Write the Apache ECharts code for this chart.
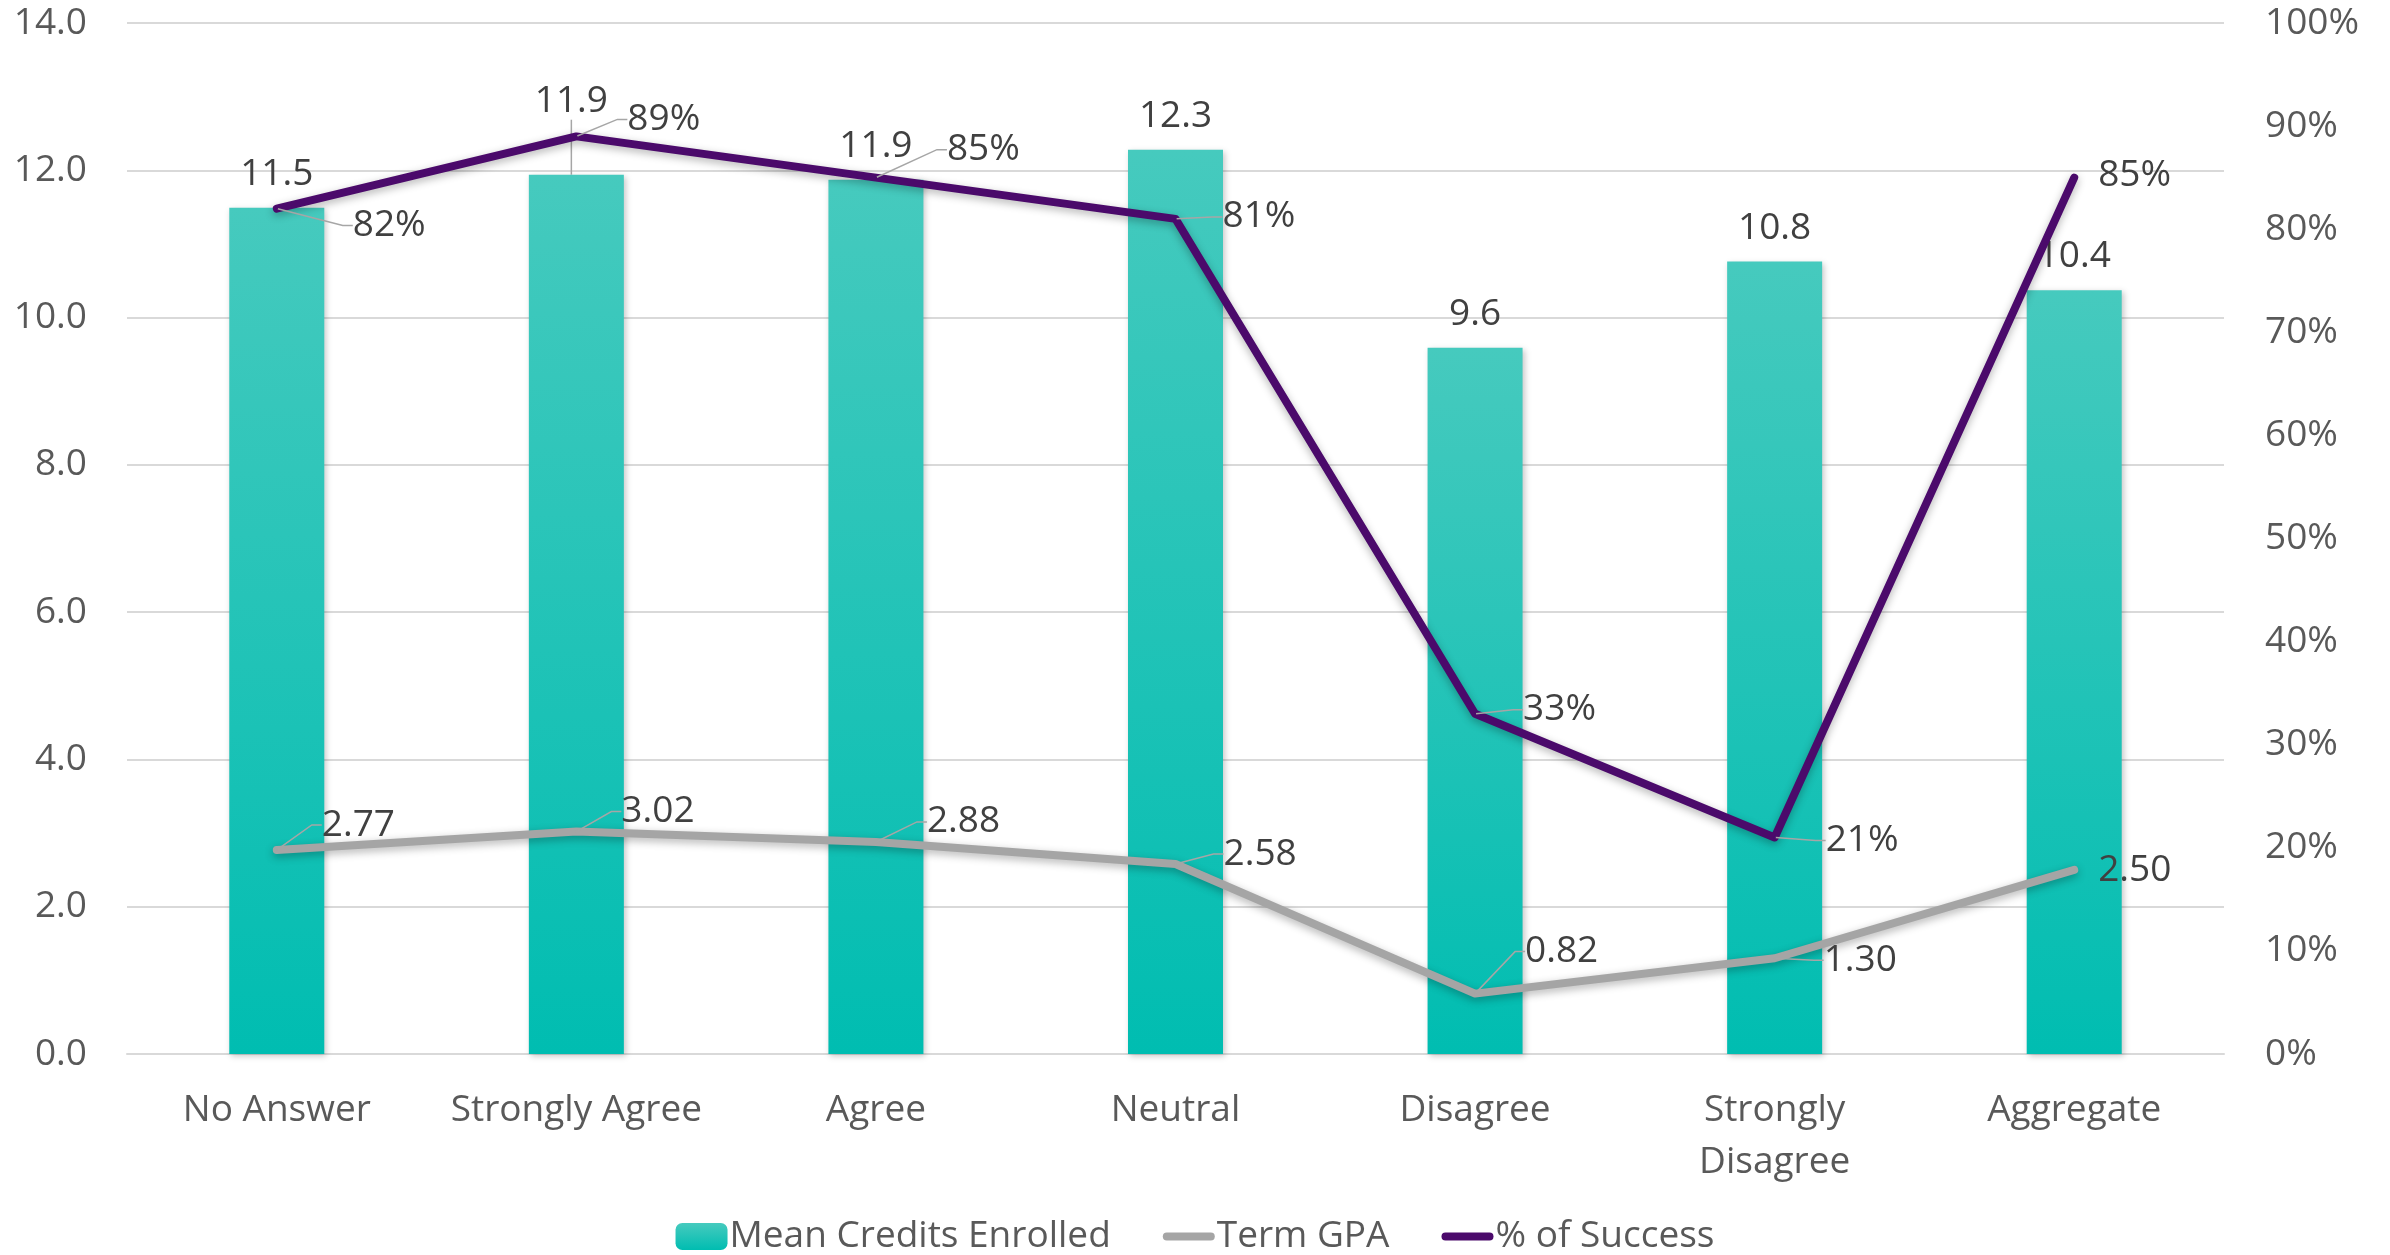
<!DOCTYPE html>
<html><head><meta charset="utf-8">
<script src="https://cdn.jsdelivr.net/npm/echarts@6/dist/echarts.min.js"></script>
<style>html,body{margin:0;padding:0;background:#fff}#c{width:2390px;height:1255px}</style>
</head><body><div id="c"></div>
<script>
const categories = ['No Answer', 'Strongly Agree', 'Agree', 'Neutral', 'Disagree', 'Strongly\nDisagree', 'Aggregate'];
const meanCredits = [11.49, 11.94, 11.87, 12.28, 9.59, 10.76, 10.37];
const termGPA = [2.77, 3.02, 2.88, 2.58, 0.82, 1.30, 2.50];
const successRate = [0.82, 0.89, 0.85, 0.81, 0.33, 0.21, 0.85];
const seriesNames = ['Mean Credits Enrolled', 'Term GPA', '% of Success'];

// label nudges (px) relative to default label position, and which labels get leader lines
const creditShift = [[0, 0], [-5, -40], [0, 0], [0, 0], [0, 0], [0, 0], [0, 0]];
const creditLeader = [false, true, false, false, false, false, false];
const gpaShift = [[44, -25], [44, -20], [50, -20], [47, -10], [49, -42], [48, 2], [23, 1]];
const gpaLeader = [true, true, true, true, true, true, false];
const successShift = [[75, 17], [50, -17], [70, -28], [46, -2], [47, -4], [50, 3], [23, -2]];
const successLeader = [true, true, true, true, true, true, false];

const FONT = '"Open Sans", "Noto Sans", sans-serif';
const leaderStyle = {color: '#a6a6a6', width: 1.5};
const lineIcon = 'path://M4,0 H48 A4,4 0 0 1 48,8 H4 A4,4 0 0 1 4,0 Z';

function items(values, leaders) {
  return values.map((v, i) => ({value: v, labelLine: {show: leaders[i], length2: 10, lineStyle: leaderStyle}}));
}
function shiftLayout(shift) {
  return function (p) { const s = shift[p.dataIndex]; return {dx: s[0], dy: s[1]}; };
}

const chart = echarts.init(document.getElementById('c'));
chart.setOption({
  backgroundColor: '#ffffff',
  animation: false,
  textStyle: {fontFamily: FONT},
  grid: {left: 127, right: 166, top: 23, bottom: 201},
  legend: {
    data: [
      {name: seriesNames[0]},
      {name: seriesNames[1], icon: lineIcon},
      {name: seriesNames[2], icon: lineIcon}
    ],
    left: 'center',
    top: 1213,
    itemGap: 52,
    itemWidth: 52,
    itemHeight: 27,
    symbolKeepAspect: true,
    textStyle: {fontFamily: FONT, fontSize: 37, color: '#595959', padding: [0, 0, 0, -3]}
  },
  xAxis: {
    type: 'category',
    data: categories,
    axisTick: {show: false},
    axisLine: {lineStyle: {color: '#d9d9d9', width: 2}},
    axisLabel: {fontFamily: FONT, fontSize: 37, color: '#595959', lineHeight: 52, margin: 30, interval: 0}
  },
  yAxis: [
    {
      type: 'value', min: 0, max: 14, interval: 2,
      axisLine: {show: false}, axisTick: {show: false},
      splitLine: {lineStyle: {color: '#d9d9d9', width: 2}},
      axisLabel: {fontFamily: FONT, fontSize: 37, color: '#595959', margin: 40, formatter: v => v.toFixed(1)}
    },
    {
      type: 'value', min: 0, max: 1, interval: 0.1,
      axisLine: {show: false}, axisTick: {show: false},
      splitLine: {show: false},
      axisLabel: {fontFamily: FONT, fontSize: 37, color: '#595959', margin: 41, formatter: v => Math.round(v * 100) + '%'}
    }
  ],
  series: [
    {
      name: seriesNames[0],
      type: 'bar',
      barWidth: 95,
      data: items(meanCredits, creditLeader),
      itemStyle: {
        color: new echarts.graphic.LinearGradient(0, 0, 0, 1, [
          {offset: 0, color: '#46cabe'},
          {offset: 1, color: '#00bdb1'}
        ]),
        shadowColor: 'rgba(0,0,0,0.22)', shadowBlur: 6, shadowOffsetX: 2, shadowOffsetY: 2
      },
      label: {show: true, position: 'top', distance: 15, fontFamily: FONT, fontSize: 37, color: '#404040', formatter: p => p.value.toFixed(1)},
      labelLayout: shiftLayout(creditShift),
      z: 2
    },
    {
      name: seriesNames[1],
      type: 'line',
      data: items(termGPA, gpaLeader),
      symbol: 'circle', symbolSize: 2,
      itemStyle: {color: '#a5a5a5'},
      lineStyle: {color: '#a5a5a5', width: 8, cap: 'round', join: 'round', shadowColor: 'rgba(0,0,0,0.3)', shadowBlur: 8, shadowOffsetY: 3},
      label: {show: true, position: 'right', distance: 0, fontFamily: FONT, fontSize: 37, color: '#404040', formatter: p => p.value.toFixed(2)},
      labelLayout: shiftLayout(gpaShift),
      z: 3
    },
    {
      name: seriesNames[2],
      type: 'line',
      yAxisIndex: 1,
      data: items(successRate, successLeader),
      symbol: 'circle', symbolSize: 2,
      itemStyle: {color: '#4b0a6b'},
      lineStyle: {color: '#4b0a6b', width: 8, cap: 'round', join: 'round', shadowColor: 'rgba(0,0,0,0.3)', shadowBlur: 8, shadowOffsetY: 3},
      label: {show: true, position: 'right', distance: 0, fontFamily: FONT, fontSize: 37, color: '#404040', formatter: p => Math.round(p.value * 100) + '%'},
      labelLayout: shiftLayout(successShift),
      z: 4
    }
  ]
});
</script>
</body></html>
